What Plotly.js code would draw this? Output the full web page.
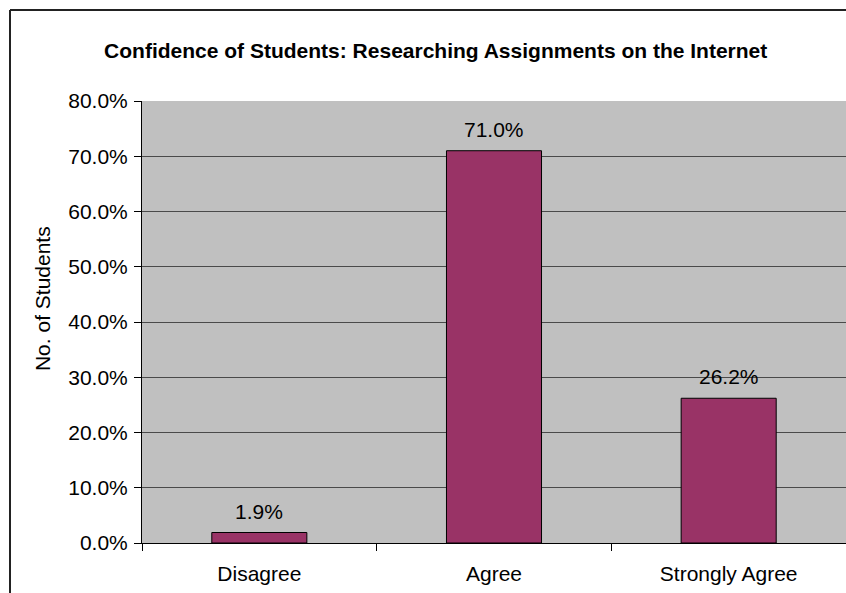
<!DOCTYPE html>
<html>
<head>
<meta charset="utf-8">
<script src="https://cdn.plot.ly/plotly-3.0.1.min.js"></script>
<style>
  html, body { margin: 0; padding: 0; background: #ffffff; overflow: hidden; }
  #chart { width: 846px; height: 593px; }
</style>
</head>
<body>
<div id="chart"></div>
<script>
const categories = ["Disagree", "Agree", "Strongly Agree"];
const shares = [0.019, 0.710, 0.262];
const shareLabels = ["1.9%", "71.0%", "26.2%"];
const chartTitle = "Confidence of Students: Researching Assignments on the Internet";
const yTitle = "No. of Students";

const FONT = "Liberation Sans, Arial, sans-serif";
const FS = 21;

const trace = {
  type: "bar",
  x: categories,
  y: shares,
  marker: { color: "#993366", line: { color: "#000000", width: 1 } },
  hoverinfo: "none"
};

const annotations = categories.map((c, i) => ({
  x: c, y: shares[i], xref: "x", yref: "y",
  text: shareLabels[i], showarrow: false,
  yanchor: "bottom", yshift: 8,
  font: { family: FONT, size: FS, color: "#000000" }
}));

annotations.push({
  text: yTitle, showarrow: false, textangle: -90,
  xref: "paper", yref: "paper", x: -0.142, y: 0.552,
  xanchor: "center", yanchor: "middle",
  font: { family: FONT, size: FS, color: "#000000" }
});

const layout = {
  width: 846,
  height: 593,
  margin: { l: 142, r: 0, t: 101, b: 50 },
  paper_bgcolor: "#ffffff",
  plot_bgcolor: "#c0c0c0",
  bargap: 0.595,
  showlegend: false,
  font: { family: FONT, size: FS, color: "#000000" },
  title: {
    text: "<b>" + chartTitle + "</b>",
    font: { family: FONT, size: FS, color: "#000000" },
    x: 0.515, xref: "container", xanchor: "center",
    y: 42, yref: "container", yanchor: "middle"
  },
  annotations: annotations,
  xaxis: {
    type: "category",
    tickson: "boundaries",
    ticks: "outside",
    ticklen: 7,
    tickcolor: "#000000",
    ticklabelstandoff: 12,
    showline: true,
    linecolor: "#000000",
    linewidth: 1,
    showgrid: false,
    tickfont: { family: FONT, size: FS, color: "#000000" },
    fixedrange: true
  },
  yaxis: {
    range: [0, 0.8],
    dtick: 0.1,
    tickformat: ".1%",
    ticks: "outside",
    ticklen: 7,
    tickcolor: "#000000",
    ticklabelstandoff: 2,
    showline: true,
    linecolor: "#000000",
    linewidth: 1,
    showgrid: true,
    gridcolor: "#4a4a4a",
    gridwidth: 1,
    zeroline: false,
    tickfont: { family: FONT, size: FS, color: "#000000" },
    fixedrange: true
  },
  shapes: [
    {
      type: "line", xref: "paper", yref: "paper",
      x0: -0.1875, x1: 1.2, y0: 1.2059, y1: 1.2059,
      line: { color: "#222222", width: 2 }
    },
    {
      type: "line", xref: "paper", yref: "paper",
      x0: -0.1875, x1: -0.1875, y0: 1.2059, y1: -0.3,
      line: { color: "#222222", width: 2 }
    }
  ]
};

Plotly.newPlot("chart", [trace], layout, { staticPlot: true, displayModeBar: false });
</script>
</body>
</html>
